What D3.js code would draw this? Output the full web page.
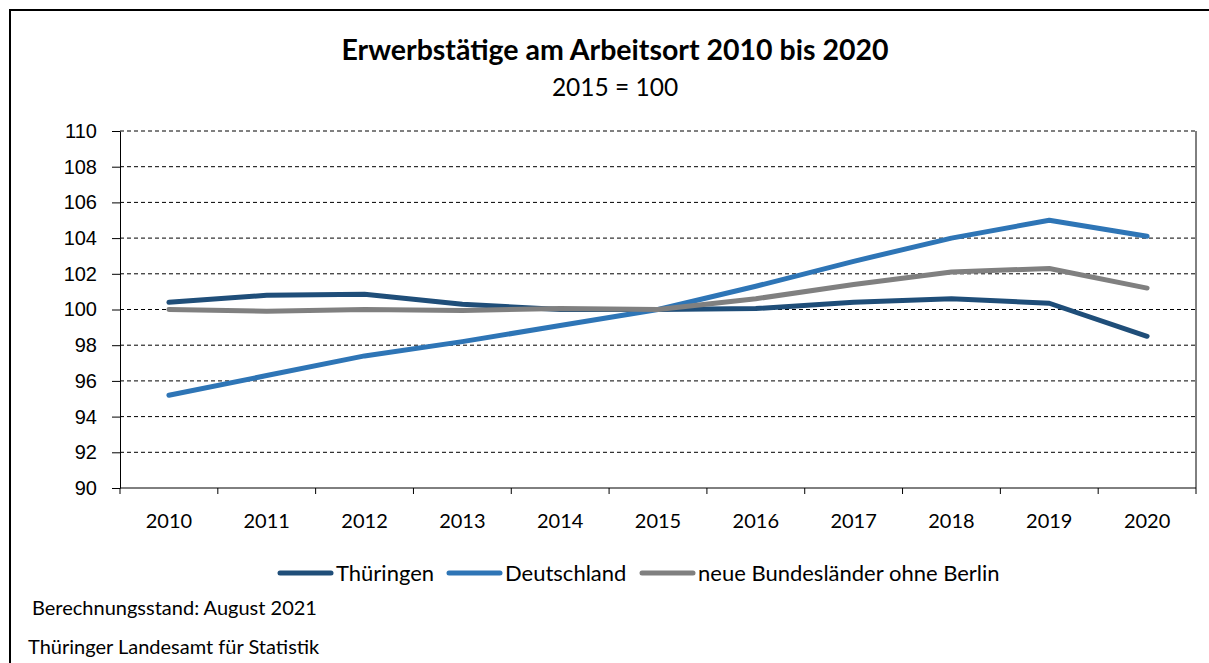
<!DOCTYPE html>
<html>
<head>
<meta charset="utf-8">
<script src="https://cdn.jsdelivr.net/npm/d3@7"></script>
<style>
  body { margin: 0; background: #fff; }
  svg { display: block; font-family: Lato, "Noto Sans", sans-serif; }
</style>
</head>
<body>
<svg id="chart" width="1209" height="663"></svg>
<script>
const years = ["2010", "2011", "2012", "2013", "2014", "2015", "2016", "2017", "2018", "2019", "2020"];
const thueringen = [100.4, 100.8, 100.85, 100.3, 100.0, 100.0, 100.05, 100.4, 100.6, 100.35, 98.5];
const deutschland = [95.2, 96.3, 97.4, 98.2, 99.1, 100.0, 101.3, 102.7, 104.0, 105.0, 104.1];
const neueLaender = [100.0, 99.9, 100.0, 99.95, 100.05, 100.0, 100.6, 101.4, 102.1, 102.3, 101.2];
const yTicks = [90, 92, 94, 96, 98, 100, 102, 104, 106, 108, 110];

const series = [
    { name: "Thüringen", values: thueringen, color: "#1f4e79" },
    { name: "Deutschland", values: deutschland, color: "#2e75b6" },
    { name: "neue Bundesländer ohne Berlin", values: neueLaender, color: "#808080" }
];

const svg = d3.select("#chart");

// outer frame
svg.append("rect")
    .attr("x", 10).attr("y", 10)
    .attr("width", 1210).attr("height", 670)
    .attr("fill", "none").attr("stroke", "#000").attr("stroke-width", 2);

const plotLeft = 120, plotRight = 1196, plotTop = 131, plotBottom = 488;

const x = d3.scaleBand().domain(years).range([plotLeft, plotRight]);
const y = d3.scaleLinear().domain([90, 110]).range([plotBottom, plotTop]);

// title
svg.append("text")
    .attr("x", 615).attr("y", 60)
    .attr("text-anchor", "middle")
    .style("font-size", "28.5px").style("font-weight", "bold")
    .text("Erwerbstätige am Arbeitsort 2010 bis 2020");
svg.append("text")
    .attr("x", 615).attr("y", 96)
    .attr("text-anchor", "middle")
    .style("font-size", "24.5px")
    .text("2015 = 100");

// grid lines
svg.append("g")
    .selectAll("line")
    .data(yTicks.filter(d => d > 90))
    .join("line")
    .attr("x1", plotLeft).attr("x2", plotRight)
    .attr("y1", d => y(d)).attr("y2", d => y(d))
    .attr("stroke", "#000")
    .attr("stroke-width", 1)
    .attr("stroke-dasharray", "4,3");

// right border of plot area
svg.append("line")
    .attr("x1", plotRight).attr("x2", plotRight)
    .attr("y1", plotTop).attr("y2", plotBottom)
    .attr("stroke", "#000");

// y axis
const yAxis = svg.append("g")
    .attr("transform", `translate(${plotLeft},0)`)
    .call(d3.axisLeft(y).tickValues(yTicks).tickSize(8).tickSizeOuter(0));
yAxis.selectAll("text").style("font-size", "20px").attr("fill", "#000").attr("x", -23);
yAxis.selectAll("line, path").attr("stroke", "#000");

// x axis: ticks at band edges
const xAxis = svg.append("g")
    .attr("transform", `translate(0,${plotBottom})`);
xAxis.append("line")
    .attr("x1", plotLeft).attr("x2", plotRight)
    .attr("stroke", "#000");
xAxis.selectAll(".edge")
    .data(years.concat(["end"]))
    .join("line")
    .attr("class", "edge")
    .attr("x1", (d, i) => i < years.length ? x(d) : x.range()[1])
    .attr("x2", (d, i) => i < years.length ? x(d) : x.range()[1])
    .attr("y1", 0).attr("y2", 6)
    .attr("stroke", "#000");
xAxis.selectAll("text")
    .data(years)
    .join("text")
    .attr("x", d => x(d) + x.bandwidth() / 2)
    .attr("y", 40)
    .attr("text-anchor", "middle")
    .style("font-size", "20px")
    .text(d => d);

// lines
const line = d3.line()
    .x((d, i) => x(years[i]) + x.bandwidth() / 2)
    .y(d => y(d));

svg.append("g")
    .selectAll("path")
    .data(series)
    .join("path")
    .attr("d", d => line(d.values))
    .attr("fill", "none")
    .attr("stroke", d => d.color)
    .attr("stroke-width", 5)
    .attr("stroke-linecap", "round")
    .attr("stroke-linejoin", "round");

// legend
const legendX = [280, 449, 642];
const legend = svg.append("g")
    .selectAll("g")
    .data(series)
    .join("g")
    .attr("transform", (d, i) => `translate(${legendX[i]},573)`);
legend.append("line")
    .attr("x1", 0).attr("x2", 51)
    .attr("stroke", d => d.color)
    .attr("stroke-width", 5)
    .attr("stroke-linecap", "round");
legend.append("text")
    .attr("x", 56).attr("y", 8)
    .style("font-size", "22px")
    .text(d => d.name);

// footer
svg.append("text")
    .attr("x", 32).attr("y", 615)
    .style("font-size", "20px")
    .text("Berechnungsstand: August 2021");
svg.append("text")
    .attr("x", 28).attr("y", 654)
    .style("font-size", "20px")
    .text("Thüringer Landesamt für Statistik");
</script>
</body>
</html>
